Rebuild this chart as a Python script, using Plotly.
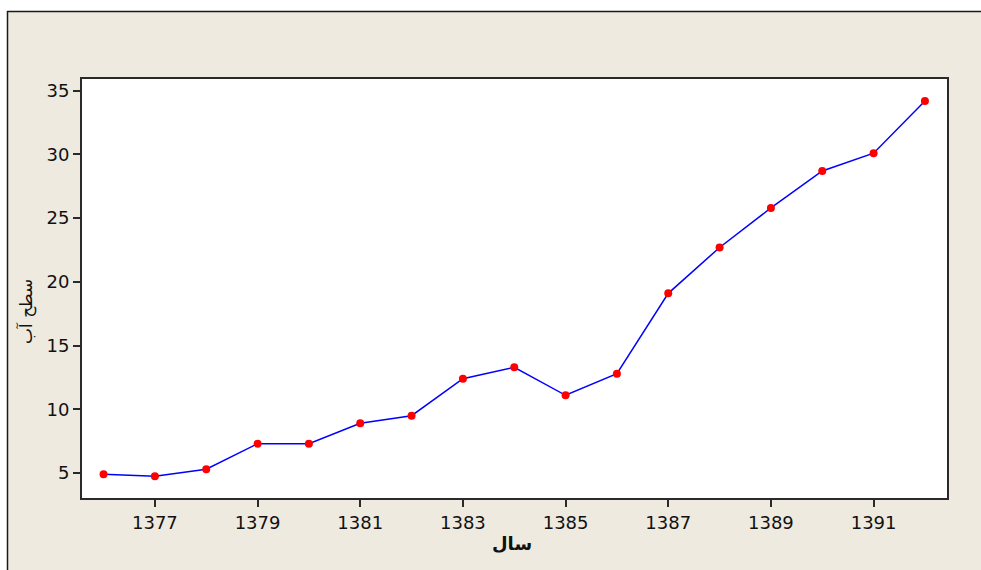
import plotly.graph_objects as go

years = [1376, 1377, 1378, 1379, 1380, 1381, 1382, 1383, 1384, 1385, 1386, 1387, 1388, 1389, 1390, 1391, 1392]
levels = [4.9, 4.75, 5.3, 7.3, 7.3, 8.9, 9.5, 12.4, 13.3, 11.1, 12.8, 19.1, 22.7, 25.8, 28.7, 30.1, 34.2]
x_ticks = [1377, 1379, 1381, 1383, 1385, 1387, 1389, 1391]
y_ticks = [5, 10, 15, 20, 25, 30, 35]

W, H = 981, 570
L, R, T, B = 82, 34, 79, 72
pw, ph = W - L - R, H - T - B

def px(x):
    return (x - L) / pw

def py(y):
    return (H - B - y) / ph

fig = go.Figure()
fig.add_trace(go.Scatter(
    x=years, y=levels, mode="lines+markers",
    line=dict(color="#0000FF", width=1.5),
    marker=dict(color="#FF0000", size=8),
    showlegend=False,
))

shapes = [
    dict(type="rect", xref="paper", yref="paper", x0=px(-10), x1=px(W + 10), y0=py(11), y1=py(-10),
         fillcolor="white", line=dict(width=0)),
    dict(type="rect", xref="paper", yref="paper", x0=px(-10), x1=px(7), y0=py(H + 10), y1=py(-10),
         fillcolor="white", line=dict(width=0)),
    dict(type="line", xref="paper", yref="paper", x0=px(7), x1=px(W + 10), y0=py(11.5), y1=py(11.5),
         line=dict(color="#1a1a1a", width=1.5)),
    dict(type="line", xref="paper", yref="paper", x0=px(7.5), x1=px(7.5), y0=py(11), y1=py(H + 10),
         line=dict(color="#1a1a1a", width=1.5)),
]

fig.update_layout(
    width=W, height=H,
    margin=dict(l=L, r=R, t=T, b=B),
    paper_bgcolor="#EEEAE0",
    plot_bgcolor="white",
    font=dict(family="DejaVu Sans", size=18, color="#111111"),
    shapes=shapes,
    annotations=[
        dict(text="<b>سال</b>", xref="paper", yref="paper", x=px(512), y=py(543),
             showarrow=False, font=dict(family="DejaVu Sans", size=18, color="#111111"),
             xanchor="center", yanchor="middle"),
        dict(text="سطح آب", xref="paper", yref="paper", x=px(26), y=py(312),
             showarrow=False, textangle=-90, font=dict(family="DejaVu Sans", size=17, color="#111111"),
             xanchor="center", yanchor="middle"),
    ],
)
fig.update_xaxes(
    range=[1375.58, 1392.43], tickvals=x_ticks, ticktext=[str(v) for v in x_ticks],
    showgrid=False, zeroline=False, showline=True, mirror=True,
    linecolor="#2a2a2a", linewidth=2, ticks="outside", ticklen=7, tickcolor="#2a2a2a", tickwidth=1.5,
)
fig.update_yaxes(
    range=[3.04, 35.92], tickvals=y_ticks,
    showgrid=False, zeroline=False, showline=True, mirror=True,
    linecolor="#2a2a2a", linewidth=2, ticks="outside", ticklen=7, tickcolor="#2a2a2a", tickwidth=1.5,
)

fig.write_html(
    "out.html",
    config={"displayModeBar": False},
    post_script="document.body.style.margin='0';document.body.style.overflow='hidden';",
)
